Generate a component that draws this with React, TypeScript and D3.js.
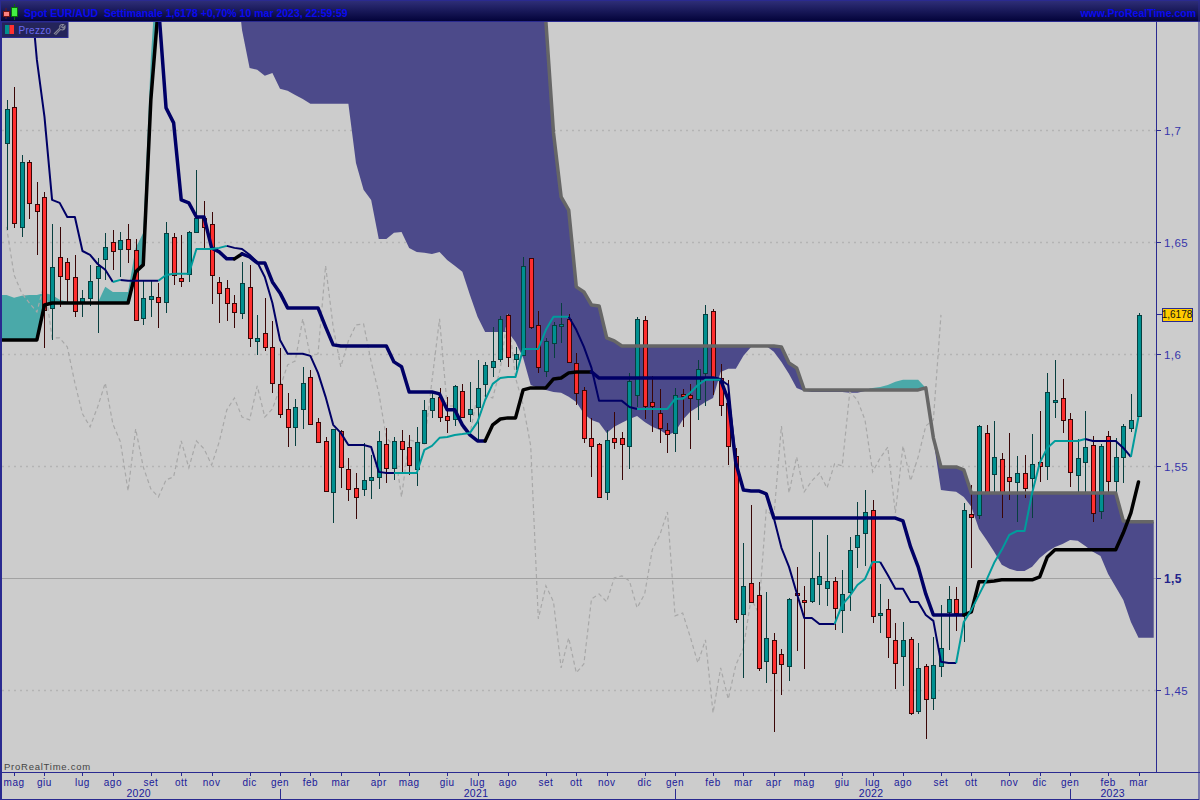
import React from "react";
import * as d3 from "d3";

// All price series are in pips (1 pip = 0.0001 EUR/AUD), one entry per weekly bar.
const pip = 1e-4;
const opens = [
  16945,17105,16570,16860,16672,16704,16208,16436,16413,16346,
  16235,16253,16342,16427,16503,16471,16516,16467,16163,16248,
  16257,16235,16525,16342,16360,16547,16610,16583,16324,16297,
  16230,16186,16302,16061,16096,16034,15869,15757,15677,15757,
  15900,15699,15614,15387,15659,15489,15404,15400,15440,15454,
  15601,15494,15614,15587,15489,15605,15753,15811,15726,15712,
  15837,15735,15766,15869,15945,15980,16177,15980,15998,16431,
  16132,15927,16052,16128,16159,15962,15842,15628,15601,15387,
  15628,15628,15592,15820,16154,15788,15739,15663,15650,15824,
  15820,15802,15918,16195,15896,15784,15547,14842,14980,14927,
  14632,14726,14663,14610,14936,14904,14900,14976,14958,14989,
  14860,14940,15141,15204,15306,14837,14864,14726,14654,14730,
  14409,14610,14467,14610,14851,14909,14837,15288,15284,15650,
  15467,15534,15454,15431,15471,15449,15521,15503,15788,15806,
  15712,15462,15521,15596,15302,15637,15436,15543,15672,15726,
];
const closes = [
  17096,16587,16860,16677,16641,16199,16391,16351,16337,16195,
  16253,16329,16396,16480,16462,16512,16471,16154,16253,16262,
  16235,16543,16355,16329,16547,16610,16570,16355,16275,16230,
  16190,16320,16074,16074,16034,15873,15735,15677,15766,15873,
  15690,15610,15391,15668,15498,15400,15364,15440,15454,15614,
  15494,15614,15579,15507,15610,15753,15806,15721,15708,15860,
  15721,15757,15851,15954,15971,16159,15989,16003,16396,16123,
  15945,16061,16132,16137,15967,15829,15628,15592,15364,15619,
  15610,15601,15882,16159,15770,15770,15672,15645,15820,15815,
  15806,15936,16181,15896,15775,15592,14820,14967,14896,14601,
  14735,14579,14619,14909,14931,14896,15003,15012,14989,14869,
  14931,15128,15195,15297,14833,14846,14739,14623,14726,14400,
  14601,14462,14614,14690,14909,14846,15306,15275,15681,15382,
  15543,15387,15436,15471,15404,15512,15503,15833,15797,15708,
  15476,15538,15587,15293,15592,15436,15543,15681,15708,16177,
];
const highs = [
  17137,17195,16891,16869,16770,16726,16583,16570,16431,16445,
  16288,16400,16431,16543,16556,16547,16583,16516,16333,16329,
  16320,16592,16543,16534,16552,16824,16686,16637,16346,16333,
  16266,16413,16400,16177,16253,16150,16029,15829,15802,15945,
  15931,15717,15632,15668,15663,15538,15471,15605,15552,15659,
  15672,15632,15663,15641,15677,15797,15837,15851,15811,15864,
  15869,15878,15976,15967,16123,16172,16181,16034,16436,16431,
  16195,16074,16146,16230,16181,16007,15855,15717,15605,15663,
  15744,15654,15918,16168,16172,15904,15846,15695,15851,15846,
  15869,15976,16221,16204,15958,15887,15583,15159,15329,14985,
  14940,14757,14686,14913,15052,14967,15262,15119,15195,15007,
  15038,15186,15342,15395,15351,14976,14909,14802,14806,14739,
  14712,14619,14739,14882,14967,14962,15337,15418,15686,15686,
  15704,15561,15650,15547,15552,15646,15748,15918,15976,15891,
  15739,15623,15748,15637,15601,15659,15628,15690,15824,16186,
];
const lows = [
  16556,16565,16525,16605,16445,16029,16065,16212,16235,16168,
  16168,16217,16096,16333,16378,16346,16409,16150,16132,16168,
  16119,16186,16311,16302,16324,16543,16476,16226,16141,16150,
  16119,16159,16034,15998,16016,15829,15717,15587,15592,15668,
  15690,15610,15387,15248,15404,15346,15266,15369,15355,15400,
  15427,15440,15476,15462,15413,15601,15717,15699,15650,15681,
  15717,15699,15610,15811,15900,15967,15945,15931,15998,16114,
  15918,15900,15985,16052,15962,15775,15605,15454,15360,15351,
  15579,15440,15489,15766,15712,15654,15605,15561,15565,15677,
  15579,15708,15770,15820,15726,15507,14802,14556,14891,14587,
  14534,14315,14480,14543,14677,14596,14891,14882,14878,14771,
  14757,14855,15047,15056,14802,14757,14645,14507,14521,14391,
  14395,14284,14413,14561,14681,14766,14717,15047,15266,15378,
  15382,15270,15351,15253,15360,15270,15431,15440,15717,15650,
  15409,15378,15382,15253,15266,15382,15382,15427,15654,15726,
];
const tenkan = [
  17896,17851,17806,17690,17315,17061,16690,16677,16614,16614,
  16462,16445,16404,16378,16324,16333,16329,16329,16329,16329,
  16329,16355,16360,16360,16360,16471,16471,16471,16476,16485,
  16476,16471,16445,16413,16346,16230,16065,16003,16003,16003,
  15994,15918,15811,15686,15650,15596,15596,15596,15587,15476,
  15471,15471,15471,15471,15471,15574,15592,15628,15632,15641,
  15645,15650,15699,15797,15869,15895,15900,15900,16025,16025,
  16025,16110,16168,16168,16168,16110,16034,15940,15793,15793,
  15793,15793,15766,15757,15757,15757,15757,15757,15802,15802,
  15829,15864,15887,15887,15887,15864,15516,15395,15391,15391,
  15378,15270,15137,15052,14936,14824,14824,14797,14797,14797,
  14882,14922,14971,14998,15074,15074,15016,14954,14954,14895,
  14895,14837,14811,14628,14623,14623,14806,14860,14927,14994,
  15070,15128,15195,15212,15212,15382,15516,15583,15614,15614,
  15614,15614,15623,15614,15614,15614,15614,15583,15543,15721,
];
const kijun = [
  16065,16065,16065,16065,16065,16221,16230,16230,16230,16230,
  16230,16230,16230,16230,16230,16230,16230,16369,16400,17137,
  17561,17101,17034,16690,16677,16614,16614,16476,16458,16427,
  16427,16449,16436,16409,16409,16324,16275,16208,16208,16208,
  16208,16208,16123,16043,16038,16038,16038,16038,16038,16038,
  16038,15967,15945,15833,15833,15833,15833,15824,15753,15753,
  15686,15641,15614,15614,15686,15712,15717,15717,15842,15851,
  15851,15851,15891,15895,15918,15922,15922,15922,15895,15895,
  15895,15895,15895,15895,15895,15895,15895,15895,15895,15895,
  15895,15895,15895,15895,15887,15797,15516,15395,15391,15391,
  15378,15270,15270,15270,15270,15270,15270,15270,15270,15270,
  15270,15270,15270,15270,15270,15270,15270,15270,15257,15141,
  15052,14931,14837,14837,14837,14837,14837,14851,14985,14985,
  14989,14994,14994,14994,14994,14994,15007,15096,15128,15128,
  15128,15128,15128,15128,15128,15128,15128,15204,15293,15431,
];
const senkouA = [
  16266,16253,16262,16266,16266,16275,16266,16244,16235,16230,
  16230,16230,16230,16302,16279,16279,16279,16476,16543,17324,
  17851,18000,18000,18000,18000,18000,18000,18000,18000,18000,
  17762,17449,17279,17271,17244,17257,17186,17177,17159,17141,
  17119,17119,17119,17119,17119,17119,16855,16735,16690,16516,
  16516,16543,16547,16476,16458,16454,16449,16458,16422,16396,
  16369,16266,16168,16101,16101,16101,16101,16056,15985,15864,
  15851,15842,15833,15829,15811,15788,15735,15708,15695,15650,
  15677,15695,15712,15726,15699,15677,15663,15641,15654,15708,
  15744,15766,15788,15806,15922,15936,15936,15994,16034,16038,
  16038,16012,15967,15913,15851,15837,15833,15833,15833,15833,
  15833,15829,15829,15837,15851,15855,15864,15878,15887,15887,
  15887,15851,15619,15395,15391,15387,15364,15320,15221,15172,
  15119,15061,15043,15034,15034,15052,15092,15119,15141,15154,
  15172,15168,15145,15119,15101,15020,14962,14904,14806,14735,
  14735,14735,
];
const senkouB = [
  16065,16065,16065,16065,16065,16221,16230,16230,16230,16230,
  16230,16230,16230,16230,16230,16230,16230,16369,16400,17137,
  17561,18476,18476,18476,18476,18476,18476,18476,18476,18476,
  18476,18476,18476,18476,18476,18476,18476,18476,18476,18476,
  18476,18476,18476,18476,18476,18476,18476,18476,18476,18476,
  18476,18476,18476,18476,18476,18476,18476,18476,18476,18476,
  18476,18476,18476,18476,18476,18476,18476,18476,18476,18476,
  17806,17485,16989,16704,16645,16302,16279,16221,16217,16074,
  16061,16038,16038,16038,16038,16038,16038,16038,16038,16038,
  16038,16038,16038,16038,16038,16038,16038,16038,16038,16038,
  16038,16038,16034,15962,15940,15842,15842,15842,15842,15842,
  15842,15842,15842,15842,15842,15842,15842,15842,15842,15842,
  15842,15851,15628,15498,15498,15498,15485,15382,15382,15382,
  15382,15382,15382,15382,15382,15382,15382,15382,15382,15382,
  15382,15382,15382,15382,15382,15382,15382,15257,15253,15253,
  15253,15253,
];
// Bar ranges in which each line is in its bullish state.
const tenkanBull = [[14,15],[20,29],[51,74],[83,94],[109,115],[125,142],[148,149]];
const kijunBull = [[0,20],[30,31],[63,77],[126,149]];
const chikouShift = 26;

const monthNames = ["mag","giu","lug","ago","set","ott","nov","dic","gen","feb","mar","apr","mag","giu","lug","ago","set","ott","nov","dic","gen","feb","mar","apr","mag","giu","lug","ago","set","ott","nov","dic","gen","feb","mar"];
const monthBars = [1,5,10,14,19,23,27,32,36,40,44,49,53,58,62,66,71,75,79,84,88,93,97,101,105,110,114,118,123,127,132,136,140,145,149];
const yearNames = ["2020","2021","2022","2023"];
const yearBars = [17.4,61.8,113.8,145.6];
const yearStartBars = [36,88,140];
const priceTicks = [1.45,1.5,1.55,1.6,1.65,1.7];
const lastPrice = 1.6178;
const title = "Spot EUR/AUD  Settimanale 1,6178 +0,70% 10 mar 2023, 22:59:59";

const x = d3.scaleLinear().domain([0, 149]).range([6.5, 1138.5]);
const y = d3.scaleLinear().domain([1.45, 1.7]).range([690.5, 130.5]);
const py = (v: number) => y(v * pip);
const fmt = (v: number) => String(v).replace(".", ",");
const sans = "'Liberation Sans', Arial, sans-serif";

const NAVY = "#000066";
const TEAL_LINE = "#009c9c";
const BLUE = "#2a2a90";

const lineGen = d3.line<[number, number]>().x((d) => x(d[0])).y((d) => py(d[1]));
// Series that begin on the first bar are carried back to the left edge of the plot.
const seg = (series: number[], a: number, b: number) => {
  const pts = series.slice(a, b + 1).map((v, k) => [a + k, v] as [number, number]);
  if (a === 0) pts.unshift([-1, series[0]]);
  return lineGen(pts) as string;
};
const at = (s: number[], i: number) => s[Math.max(i, 0)];
const bars = [-1, ...senkouA.map((_, i) => i)];
const navyCloud = d3.area<number>().x((i) => x(i)).y0((i) => py(at(senkouA, i))).y1((i) => py(Math.max(at(senkouA, i), at(senkouB, i))))(bars) as string;
const tealCloud = d3.area<number>().x((i) => x(i)).y0((i) => py(at(senkouB, i))).y1((i) => py(Math.max(at(senkouA, i), at(senkouB, i))))(bars) as string;
// The lagging line is each close drawn 26 bars back.
const chikouPath = lineGen(closes.slice(chikouShift).map((v, i) => [i, v] as [number, number])) as string;

function spansToSegments(spans: number[][], n: number) {
  const out: { a: number; b: number; bull: boolean }[] = [];
  let cur = 0;
  spans.forEach(([a, b]) => {
    if (a > cur) out.push({ a: cur, b: a, bull: false });
    out.push({ a, b, bull: true });
    cur = b;
  });
  if (cur < n - 1) out.push({ a: cur, b: n - 1, bull: false });
  return out;
}

export default function App() {
  return (
    <svg width={1200} height={800} style={{ position: "absolute", left: 0, top: 0, display: "block", background: "#cccccc" }} fontFamily={sans}>
      <defs>
        <linearGradient id="hdr" x1="0" x2="0" y1="0" y2="1">
          <stop offset="0" stopColor="#30307a" />
          <stop offset="1" stopColor="#03033a" />
        </linearGradient>
        <clipPath id="plot"><rect x={2} y={21} width={1155} height={751} /></clipPath>
      </defs>
      <rect width={1200} height={800} fill="#cccccc" />

      {/* grid */}
      {priceTicks.map((t) => (
        <line key={t} x1={2} x2={1157} y1={y(t)} y2={y(t)}
          stroke={t === 1.5 ? "#a2a2a2" : "#b4b4b4"} strokeWidth={t === 1.5 ? 1 : 1.6}
          strokeDasharray={t === 1.5 ? undefined : "2 4"} />
      ))}

      <g clipPath="url(#plot)">
        {/* Ichimoku cloud */}
        <path d={navyCloud} fill="#4c4a8a" />
        <path d={tealCloud} fill="#4aa9a9" />
        {/* lagging line */}
        <path d={chikouPath} fill="none" stroke="#a8a8a8" strokeWidth={1.2} strokeDasharray="4 3" />
        {/* candles */}
        {opens.map((o, i) => {
          const c = closes[i];
          const up = c >= o;
          const cx = Math.round(x(i));
          const top = Math.round(py(Math.max(o, c)));
          const bot = Math.round(py(Math.min(o, c)));
          const dark = up ? "#073f3f" : "#3a0606";
          return (
            <g key={i} shapeRendering="crispEdges">
              <line x1={cx + 0.5} x2={cx + 0.5} y1={py(highs[i])} y2={py(lows[i])} stroke={dark} strokeWidth={1} />
              <rect x={cx - 1.5} y={top + 0.5} width={4} height={Math.max(bot - top, 2)} fill={up ? "#009090" : "#ff2e2e"} stroke={dark} strokeWidth={1} />
            </g>
          );
        })}
        {/* leading span B edge */}
        <path d={seg(senkouB, 21, senkouB.length - 1)} fill="none" stroke="#666666" strokeWidth={3.5} strokeLinejoin="round" />
        {/* base line */}
        {spansToSegments(kijunBull, kijun.length).map((s) => (
          <path key={s.a} d={seg(kijun, s.a, s.b)} fill="none" stroke={s.bull ? "#000000" : NAVY} strokeWidth={3.5} strokeLinejoin="round" strokeLinecap="round" />
        ))}
        {/* conversion line */}
        {spansToSegments(tenkanBull, tenkan.length).map((s) => (
          <path key={s.a} d={seg(tenkan, s.a, s.b)} fill="none" stroke={s.bull ? TEAL_LINE : NAVY} strokeWidth={2} strokeLinejoin="round" />
        ))}
      </g>

      {/* header */}
      <rect x={0} y={0} width={1200} height={21} fill="url(#hdr)" />
      <line x1={0} x2={1200} y1={21.5} y2={21.5} stroke={BLUE} />
      <line x1={6} x2={6} y1={8} y2={19} stroke="#701515" />
      <rect x={3.5} y={11.5} width={6} height={5} fill="#ff8080" stroke="#701515" />
      <line x1={14.5} x2={14.5} y1={4} y2={20} stroke="#0a6a0a" />
      <rect x={11.5} y={7.5} width={6} height={9} fill="#44ee44" stroke="#0a6a0a" />
      <text x={24} y={16.5} fontSize={10.5} fontWeight={700} fill="#0a0af0" xmlSpace="preserve">{title}</text>
      <text x={1196} y={16.5} textAnchor="end" fontSize={10.5} fontWeight={700} fill="#0a0af0">www.ProRealTime.com</text>

      {/* legend */}
      <rect x={1} y={22} width={67} height={15.5} fill="#24245a" stroke={BLUE} />
      <rect x={5} y={25} width={4.5} height={9} fill="#009090" />
      <rect x={9.5} y={25} width={4.5} height={9} fill="#ff3030" />
      <text x={18.5} y={34} fontSize={10} fill="#6a6aee" letterSpacing={0.3}>Prezzo</text>
      <path d="M54 34 L60 28 M60 28 Q59 25 62 24.5 L63.5 24.5 L61.5 27 L63 28 L65 26 Q65.5 29 62.5 30 L60.5 29.5 L55.5 35" fill="none" stroke="#888899" strokeWidth={1.1} />

      {/* right axis */}
      <line x1={1156.5} x2={1156.5} y1={21} y2={772} stroke={BLUE} />
      {priceTicks.map((t) => (
        <g key={t}>
          <line x1={1157} x2={1161} y1={y(t)} y2={y(t)} stroke={BLUE} shapeRendering="crispEdges" />
          <text x={1164} y={y(t) + 4} fontSize={t === 1.5 ? 12 : 11.5} fontWeight={t === 1.5 ? 700 : 400} fill={t === 1.5 ? "#22228a" : "#3535aa"} letterSpacing={0.4}>{fmt(t)}</text>
        </g>
      ))}
      <line x1={1157} x2={1162} y1={y(lastPrice)} y2={y(lastPrice)} stroke={BLUE} shapeRendering="crispEdges" />
      <rect x={1162} y={y(lastPrice) - 6.5} width={30} height={13} fill="#ffcc00" stroke={BLUE} shapeRendering="crispEdges" />
      <text x={1177} y={y(lastPrice) + 3.5} textAnchor="middle" fontSize={10} fill="#111111">{fmt(lastPrice)}</text>

      {/* bottom axis */}
      <line x1={0} x2={1200} y1={772.5} y2={772.5} stroke={BLUE} />
      {monthBars.map((b, i) => (
        <g key={i}>
          <line x1={Math.round(x(b)) + 0.5} x2={Math.round(x(b)) + 0.5} y1={773} y2={776} stroke={BLUE} />
          <text x={x(b)} y={785.5} textAnchor="middle" fontSize={10} fill="#1a1a99" letterSpacing={0.5}>{monthNames[i]}</text>
        </g>
      ))}
      {yearStartBars.map((b) => (
        <line key={b} x1={Math.round(x(b)) + 0.5} x2={Math.round(x(b)) + 0.5} y1={789} y2={800} stroke={BLUE} />
      ))}
      {yearNames.map((n, i) => (
        <text key={n} x={x(yearBars[i])} y={797} textAnchor="middle" fontSize={10.5} fill="#1a1a99" letterSpacing={0.3}>{n}</text>
      ))}
      <text x={4} y={770} fontSize={9.5} fill="#444444" letterSpacing={0.75}>ProRealTime.com</text>

      {/* frame */}
      <rect x={0.5} y={0.5} width={1198.5} height={799} fill="none" stroke={BLUE} />
      <line x1={1.5} x2={1.5} y1={22} y2={800} stroke={BLUE} />
    </svg>
  );
}
